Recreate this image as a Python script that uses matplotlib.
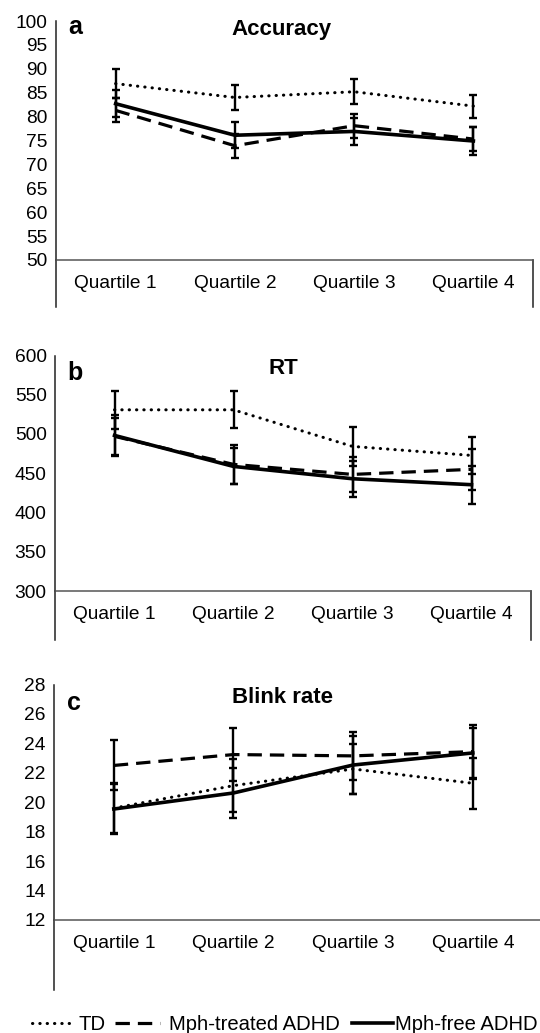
import numpy as np
import matplotlib
matplotlib.use('Agg')
import matplotlib.pyplot as plt
from matplotlib.lines import Line2D

plt.rcParams['font.family'] = ['Liberation Sans', 'DejaVu Sans']

# カテゴリ
quartiles = ['Quartile 1', 'Quartile 2', 'Quartile 3', 'Quartile 4']
group_names = ['TD', 'Mph-treated ADHD', 'Mph-free ADHD']

# (a) Accuracy
acc_td = [86.9, 84.0, 85.2, 82.2]
acc_td_err = [3.0, 2.6, 2.6, 2.4]
acc_treated = [81.3, 73.9, 78.1, 75.3]
acc_treated_err = [2.5, 2.5, 2.5, 2.6]
acc_free = [82.7, 76.1, 76.9, 74.9]
acc_free_err = [2.8, 2.7, 2.9, 2.9]

# (b) RT
rt_td = [530.8, 530.8, 484.2, 472.7]
rt_td_err = [24, 23.5, 25, 24]
rt_treated = [497, 461.3, 448.5, 455]
rt_treated_err = [24, 25, 22, 26]
rt_free = [498.2, 458.7, 443, 435.4]
rt_free_err = [26, 23, 23, 24]

# (c) Blink rate
blink_td = [19.6, 21.13, 22.26, 21.29]
blink_td_err = [1.7, 1.8, 1.7, 1.75]
blink_treated = [22.5, 23.24, 23.15, 23.44]
blink_treated_err = [1.7, 1.8, 1.65, 1.84]
blink_free = [19.54, 20.63, 22.53, 23.35]
blink_free_err = [1.7, 1.7, 2.0, 1.7]

# 線のスタイル (TD, Mph-treated, Mph-free)
line_styles = [
    dict(color='black', linestyle=(0, (0.1, 2.3)), linewidth=2.2, dash_capstyle='round'),
    dict(color='black', linestyle=(0, (4.5, 2.5)), linewidth=2.3),
    dict(color='black', linestyle='-', linewidth=2.6),
]

W, H = 540, 1033
fig = plt.figure(figsize=(W / 100, H / 100), dpi=100)


def add_panel(box, box_bottom, letter, letter_xy, title, title_xy, ylim, yticks,
              series, errors, xmax=3.5, right_line=True):
    left, top, right, bottom = box
    ax = fig.add_axes([left / W, 1 - bottom / H, (right - left) / W, (bottom - top) / H])
    x = np.arange(len(quartiles))
    for vals, err, st in zip(series, errors, line_styles):
        ax.errorbar(x, vals, yerr=err, fmt='none', ecolor='black',
                    elinewidth=1.7, capsize=3, capthick=1.7, zorder=2)
        ax.plot(x, vals, zorder=3, **st)
    ax.set_xlim(-0.5, xmax)
    ax.set_ylim(*ylim)
    ax.set_yticks(yticks)
    ax.set_xticks(x)
    ax.set_xticklabels(quartiles)
    ax.tick_params(axis='y', length=0, pad=6, labelsize=13.8)
    ax.tick_params(axis='x', length=0, pad=11, labelsize=13.8)
    for s in ['top', 'right']:
        ax.spines[s].set_visible(False)
    ax.spines['left'].set_color('#222222')
    ax.spines['left'].set_linewidth(1.1)
    ax.spines['bottom'].set_color('#555555')
    ax.spines['bottom'].set_linewidth(1.1)
    # 軸ラベルの下の枠
    ext = -(box_bottom - bottom) / (bottom - top)
    ax.add_line(Line2D([0, 0], [0, ext], transform=ax.transAxes, color='#222222',
                       linewidth=1.1, clip_on=False))
    if right_line:
        ax.add_line(Line2D([1, 1], [0, ext], transform=ax.transAxes, color='#222222',
                           linewidth=1.1, clip_on=False))
    fig.text(letter_xy[0] / W, 1 - letter_xy[1] / H, letter, fontsize=18,
             fontweight='bold', ha='center', va='center')
    fig.text(title_xy[0] / W, 1 - title_xy[1] / H, title, fontsize=16,
             fontweight='bold', ha='center', va='center')
    return ax


add_panel((56, 21, 533, 260), 307, 'a', (75, 27), 'Accuracy', (282, 29),
          (50, 100), np.arange(50, 101, 5),
          [acc_td, acc_treated, acc_free], [acc_td_err, acc_treated_err, acc_free_err])

add_panel((55, 355.5, 531, 591), 640, 'b', (75, 373), 'RT', (283, 368),
          (300, 600), np.arange(300, 601, 50),
          [rt_td, rt_treated, rt_free], [rt_td_err, rt_treated_err, rt_free_err])

add_panel((54, 684.5, 541, 920), 990, 'c', (74, 703), 'Blink rate', (283, 697.5),
          (12, 28), np.arange(12, 29, 2),
          [blink_td, blink_treated, blink_free],
          [blink_td_err, blink_treated_err, blink_free_err],
          xmax=3.57, right_line=False)

# 凡例 (項目ごとに位置を指定)
legend_x = [32, 115, 352]
legend_len = [1.9, 2.2, 2.0]
legend_pad = [0.4, 0.45, 0.1]
for st, name, lx, hl, tp in zip(line_styles, group_names, legend_x, legend_len, legend_pad):
    fig.legend([Line2D([], [], **st)], [name], loc='center left',
               bbox_to_anchor=(lx / W, 1 - 1025 / H), frameon=False, fontsize=14.6,
               handlelength=hl, handletextpad=tp, borderpad=0, borderaxespad=0)

fig.savefig('out.png', dpi=100)
